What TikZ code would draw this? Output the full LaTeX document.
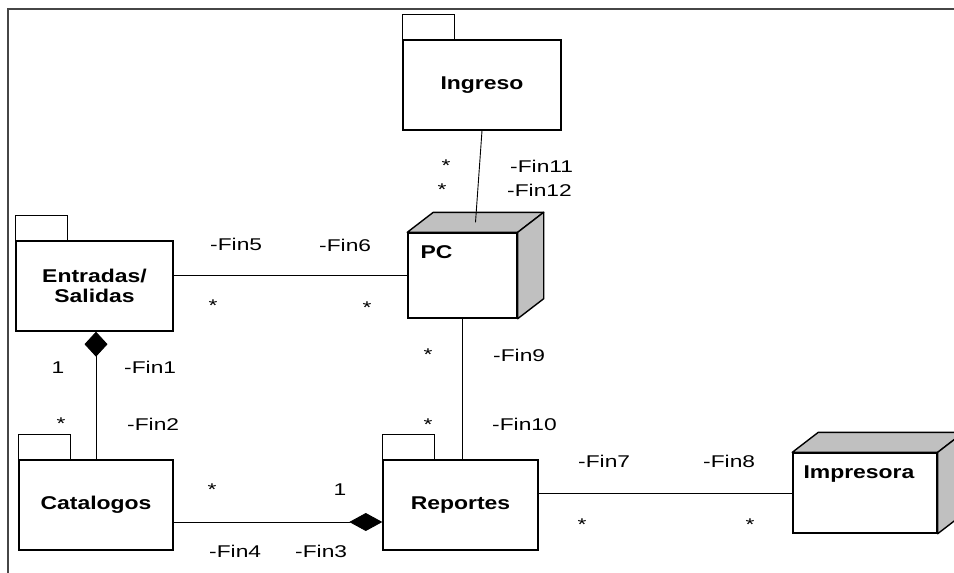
\documentclass[tikz,border=0pt]{standalone}
\usepackage{fontspec}
\usetikzlibrary{arrows.meta,calc}
\newfontfamily\lblfont[FakeStretch=1.34]{Liberation Sans}
\newfontfamily\namefont[FakeStretch=1.24]{Liberation Sans Bold}
\definecolor{boxgray}{RGB}{192,192,192}
\definecolor{framegray}{RGB}{70,70,70}
\begin{document}
\begin{tikzpicture}[x=1pt,y=-1pt,
  pkg/.style={draw, line width=1.4pt, inner sep=0pt, minimum height=90pt,
    font=\namefont\fontsize{18.5}{20}\selectfont, align=center},
  tabline/.style={line width=1.4pt},
  nodebox/.style={draw, line width=1.4pt, fill=white, inner sep=0pt},
  sideface/.style={draw, line width=1.4pt, fill=boxgray, line join=round},
  conn/.style={line width=0.9pt},
  lbl/.style={font=\lblfont\fontsize{17}{19}\selectfont, anchor=base west, inner sep=0pt},
  mult/.style={font=\lblfont\fontsize{17}{19}\selectfont, anchor=base, inner sep=0pt},
  bname/.style={font=\namefont\fontsize{18.5}{20}\selectfont, anchor=base west, inner sep=0pt},
]
\useasboundingbox (0,0) rectangle (954,573);
\clip (0,0) rectangle (954,573);
\fill[white] (0,0) rectangle (954,573);
% frame
\draw[framegray, line width=1.5pt] (8,573) -- (8,9) -- (954,9);

% packages
\node[pkg, minimum width=158pt] (ing) at (482,85) {Ingreso};
\node[pkg, minimum width=157pt] (ent) at (94.5,286) {Entradas/\\Salidas};
\node[pkg, minimum width=154pt] (cat) at (96,505) {Catalogos};
\node[pkg, minimum width=155pt] (rep) at (460.5,505) {Reportes};
\foreach \p in {ing,ent,cat,rep}
  \draw[tabline] (\p.north west) -- ++(0,-25) -- ++(52,0) -- ++(0,25);

% 3D nodes
\node[nodebox, minimum width=109pt, minimum height=85pt] (pc) at (462.5,275.5) {};
\filldraw[sideface] (pc.north west) -- ($(pc.north west)+(26,-20)$) -- ($(pc.north east)+(26,-20)$) -- (pc.north east) -- cycle;
\filldraw[sideface] (pc.north east) -- ($(pc.north east)+(26,-20)$) -- ($(pc.south east)+(26,-20)$) -- (pc.south east) -- cycle;
\node[bname] (pctext) at ($(pc.north west)+(13,26)$) {PC};

\node[nodebox, minimum width=144pt, minimum height=80pt] (imp) at (865,493) {};
\filldraw[sideface] (imp.north west) -- ($(imp.north west)+(26,-20)$) -- ($(imp.north east)+(26,-20)$) -- (imp.north east) -- cycle;
\filldraw[sideface] (imp.north east) -- ($(imp.north east)+(26,-20)$) -- ($(imp.south east)+(26,-20)$) -- (imp.south east) -- cycle;
\node[bname] (imptext) at ($(imp.north west)+(11,26)$) {Impresora};

% connectors
\coordinate (pctop) at ($(pc.north)+(13,-10)$);
\draw[conn] (ing.south) -- (pctop);
\draw[conn] (pc.west) -- (pc.west -| ent.east);
\draw[conn] (pc.south) -- (pc.south |- rep.north);
\draw[conn] (imp.west) -- (imp.west -| rep.east);
\draw[conn, -{Diamond[length=25pt,width=23pt]}] (cat.north) -- (cat.north |- ent.south);
\draw[conn, -{Diamond[length=33pt,width=18pt]}] ($(cat.east)+(0,17)$) -- ($(rep.west)+(0,17)$);

% labels
\node[mult] (m11) at (446,171) {*};
\node[lbl] (f11) at (510,172) {-Fin11};
\node[mult] (m12) at (442,195) {*};
\node[lbl] (f12) at (507,196) {-Fin12};
\node[lbl] (f5) at (210,250) {-Fin5};
\node[lbl] (f6) at (319,251) {-Fin6};
\node[mult] (m5) at (213,311) {*};
\node[mult] (m6) at (367,313) {*};
\node[mult] (o1) at (58,373) {1};
\node[lbl] (f1) at (124,373) {-Fin1};
\node[mult] (m2) at (61,429) {*};
\node[lbl] (f2) at (127,430) {-Fin2};
\node[mult] (m9) at (428,360) {*};
\node[lbl] (f9) at (493,361) {-Fin9};
\node[mult] (m10) at (428,430) {*};
\node[lbl] (f10) at (492,430) {-Fin10};
\node[lbl] (f7) at (578,467) {-Fin7};
\node[lbl] (f8) at (703,467) {-Fin8};
\node[mult] (m7) at (582,530) {*};
\node[mult] (m8) at (750,530) {*};
\node[mult] (m4) at (212,495) {*};
\node[mult] (o3) at (340,495) {1};
\node[lbl] (f4) at (209,557) {-Fin4};
\node[lbl] (f3) at (295,557) {-Fin3};
\end{tikzpicture}
\end{document}
